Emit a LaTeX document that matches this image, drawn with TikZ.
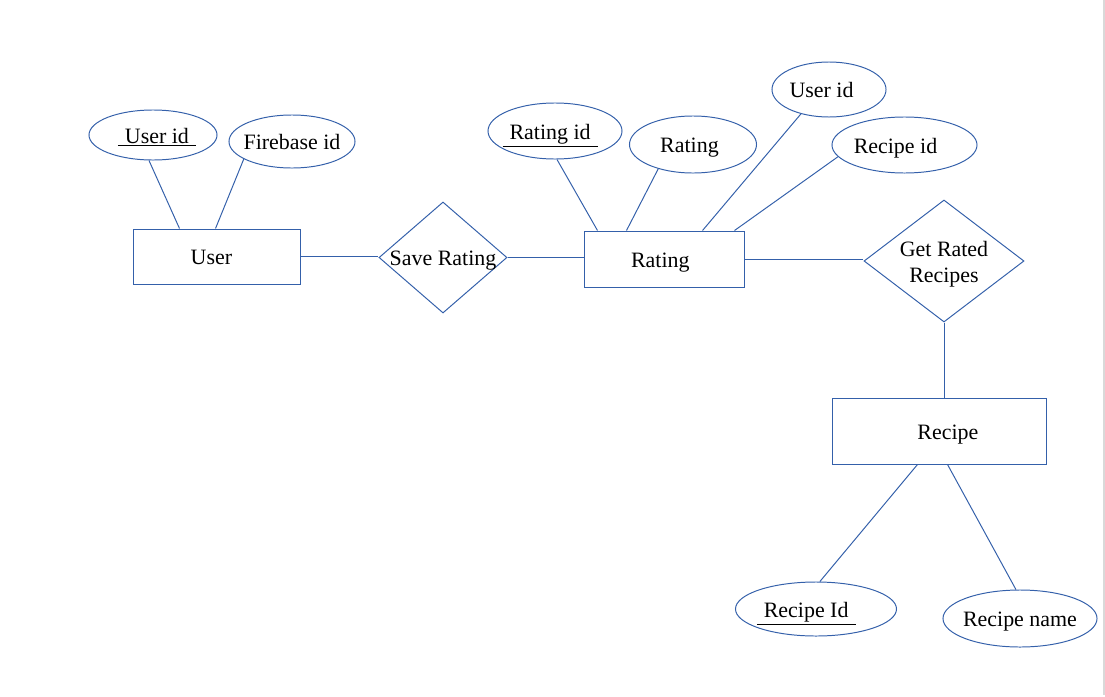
\documentclass[tikz,border=0pt]{standalone}
\usepackage{fontspec}
\setmainfont{Liberation Serif}
\usetikzlibrary{shapes.geometric}
\definecolor{erblue}{RGB}{52,96,170}
\newcommand{\keyattr}[1]{\underline{\kern5pt #1\kern5pt}}

\begin{document}
\begin{tikzpicture}[
x=0.025cm, y=-0.025cm,
line width=0.7pt,
erfont/.style={font=\fontsize{15.6}{18.5}\selectfont, text=black},
attr/.style={draw=erblue, ellipse, inner xsep=-6pt, inner ysep=0pt, text height=12pt, text depth=0pt, erfont},
entity/.style={draw=erblue, rectangle, inner sep=0pt, text height=12pt, text depth=0pt, erfont},
rel/.style={draw=erblue, diamond, inner sep=0pt},
every label/.style={erfont, align=center, yshift=-2.5pt},
conn/.style={draw=erblue}
]
\useasboundingbox (0,0) rectangle (1105,697);
\draw[black!15, line width=1.2pt] (1104,0) -- (1104,695);

\node[entity, minimum width=4.15cm, minimum height=1.375cm] (user) at (217,256.5) {\kern-8pt User};
\node[entity, minimum width=3.975cm, minimum height=1.4cm] (rating) at (664.5,259) {\kern-6pt Rating};
\node[entity, minimum width=5.325cm, minimum height=1.65cm] (recipe) at (939.5,431) {\kern12pt Recipe};

\node[rel, minimum width=3.2cm, minimum height=2.775cm, label=center:{Save Rating}] (saverating) at (443,257.5) {};
\node[rel, minimum width=4cm, minimum height=3.05cm, label=center:{Get Rated\\Recipes}] (getrated) at (944,261) {};

\node[attr, minimum width=3.2cm, minimum height=1.25cm] (useruid) at (153,135) {\kern5.6pt\keyattr{User id}};
\node[attr, minimum width=3.15cm, minimum height=1.325cm] (userfbid) at (292,141.5) {Firebase id};
\node[attr, minimum width=3.35cm, minimum height=1.4cm] (ratingid) at (555,131) {\kern-7pt\keyattr{Rating id}};
\node[attr, minimum width=3.175cm, minimum height=1.425cm] (ratingval) at (693,144.5) {\kern-5pt Rating};
\node[attr, minimum width=2.85cm, minimum height=1.375cm] (ratinguid) at (829,89.5) {\kern-10.6pt User id};
\node[attr, minimum width=3.625cm, minimum height=1.4cm] (ratingrecid) at (904.5,145) {\kern-12.8pt Recipe id};
\node[attr, minimum width=4.025cm, minimum height=1.35cm] (recipeid) at (816,609) {\kern-14pt\keyattr{Recipe Id}};
\node[attr, minimum width=3.85cm, minimum height=1.425cm] (recipename) at (1020,618.5) {Recipe name};

\draw[conn] (useruid.261) -- ([xshift=1.15cm]user.north west);
\draw[conn] (userfbid.200) -- ([xshift=2.05cm]user.north west);
\draw[conn] (ratingid.274) -- ([xshift=0.325cm]rating.north west);
\draw[conn] (ratingval.215) -- ([xshift=1.05cm]rating.north west);
\draw[conn] (ratinguid.221) -- ([xshift=2.95cm]rating.north west);
\draw[conn] (ratingrecid.190) -- ([xshift=3.75cm]rating.north west);
\draw[conn] ([xshift=2.125cm]recipe.south west) -- (recipeid.82);
\draw[conn] ([xshift=2.875cm]recipe.south west) -- (recipename.98);

\draw[conn] (user.east) -- (user.east -| saverating.west);
\draw[conn] (saverating.east) -- (saverating.east -| rating.west);
\draw[conn] (rating.east) -- (rating.east -| getrated.west);
\draw[conn] (getrated.south) -- (getrated.south |- recipe.north);
\end{tikzpicture}
\end{document}
